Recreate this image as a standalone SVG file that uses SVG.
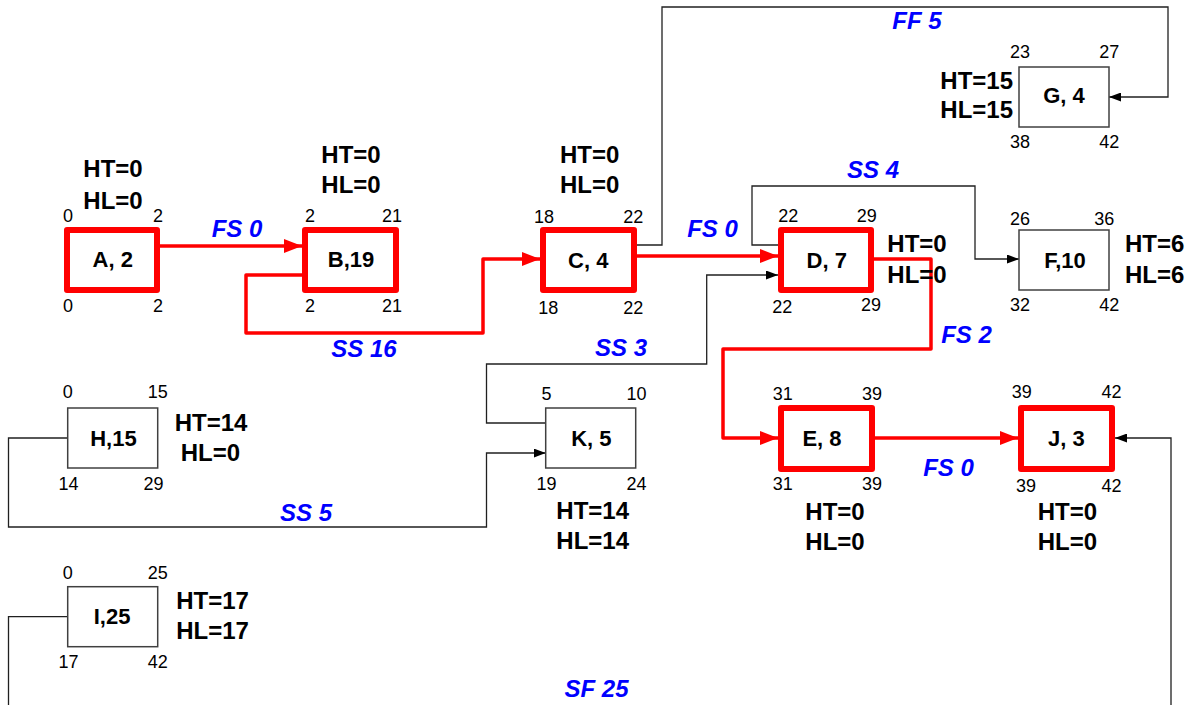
<svg xmlns="http://www.w3.org/2000/svg" width="1195" height="705" viewBox="0 0 1195 705">
<defs>
<style>
.crit{fill:#fff;stroke:#ff0000;stroke-width:6;stroke-linejoin:round}
.norm{fill:#fff;stroke:#404040;stroke-width:1.5}
.rc{fill:none;stroke:#ff0000;stroke-width:3.5;stroke-linejoin:round}
.bc{fill:none;stroke:#202020;stroke-width:1.3}
.lbl{font-family:"Liberation Sans",Arial,sans-serif;font-size:22px;font-weight:bold;fill:#000;text-anchor:middle}
.num{font-family:"Liberation Sans",Arial,sans-serif;font-size:18px;fill:#000;text-anchor:middle}
.ht{font-family:"Liberation Sans",Arial,sans-serif;font-size:24px;font-weight:bold;fill:#000;text-anchor:middle}
.cl{font-family:"Liberation Sans",Arial,sans-serif;font-size:24px;font-weight:bold;font-style:italic;fill:#0000ff;text-anchor:middle}
</style>
<marker id="ar" markerWidth="18" markerHeight="14" refX="18" refY="7" orient="auto" markerUnits="userSpaceOnUse">
<path d="M0,0 L18,7 L0,14 Z" fill="#ff0000"/>
</marker>
<marker id="ab" markerWidth="12" markerHeight="9" refX="12" refY="4.5" orient="auto" markerUnits="userSpaceOnUse">
<path d="M0,0 L12,4.5 L0,9 Z" fill="#000"/>
</marker>
</defs>
<rect width="1195" height="705" fill="#fff"/>

<g id="connectors">
<path class="rc" d="M160,246 H302" marker-end="url(#ar)"/>
<path class="rc" d="M302,275 H246 V333 H483 V259 H540" marker-end="url(#ar)"/>
<path class="rc" d="M637,256 H778" marker-end="url(#ar)"/>
<path class="rc" d="M874,259 H931 V349 H723 V438 H778" marker-end="url(#ar)"/>
<path class="rc" d="M875,438 H1018" marker-end="url(#ar)"/>
<path class="bc" d="M637,245 H662 V7 H1168 V97 H1109" marker-end="url(#ab)"/>
<path class="bc" d="M781,245 H752 V186 H975 V259 H1019" marker-end="url(#ab)"/>
<path class="bc" d="M545.7,423 H486.5 V364 H706.7 V275 H778" marker-end="url(#ab)"/>
<path class="bc" d="M67.7,438 H8.5 V527 H486.5 V453 H545.7" marker-end="url(#ab)"/>
<path class="bc" d="M67.7,616.7 H8.5 V720 H1171 V438 H1115" marker-end="url(#ab)"/>
<text class="cl" x="237" y="237">FS 0</text>
<text class="cl" x="364" y="357">SS 16</text>
<text class="cl" x="712.5" y="237">FS 0</text>
<text class="cl" x="621" y="356">SS 3</text>
<text class="cl" x="917" y="29">FF 5</text>
<text class="cl" x="873" y="178">SS 4</text>
<text class="cl" x="966.5" y="343">FS 2</text>
<text class="cl" x="948.5" y="476">FS 0</text>
<text class="cl" x="306" y="521">SS 5</text>
<text class="cl" x="596.5" y="697">SF 25</text>
</g>

<g id="node-A">
<rect class="crit" x="67" y="230" width="90" height="60"/>
<text class="lbl" x="112.7" y="267">A, 2</text>
<text class="num" x="68" y="222">0</text><text class="num" x="158" y="222">2</text>
<text class="num" x="68" y="312">0</text><text class="num" x="158" y="312">2</text>
<text class="ht" x="113" y="177">HT=0</text><text class="ht" x="113" y="209">HL=0</text>
</g>

<g id="node-B">
<rect class="crit" x="305" y="230" width="91" height="60"/>
<text class="lbl" x="351" y="267">B,19</text>
<text class="num" x="310" y="222">2</text><text class="num" x="392" y="222">21</text>
<text class="num" x="310" y="312">2</text><text class="num" x="392" y="312">21</text>
<text class="ht" x="351" y="163">HT=0</text><text class="ht" x="351" y="193">HL=0</text>
</g>

<g id="node-C">
<rect class="crit" x="543" y="230" width="91" height="60"/>
<text class="lbl" x="588.3" y="268">C, 4</text>
<text class="num" x="544" y="222.7">18</text><text class="num" x="633.3" y="222.7">22</text>
<text class="num" x="548.3" y="314">18</text><text class="num" x="633.3" y="314">22</text>
<text class="ht" x="589.7" y="163">HT=0</text><text class="ht" x="589.7" y="193">HL=0</text>
</g>

<g id="node-D">
<rect class="crit" x="781" y="230" width="90" height="60"/>
<text class="lbl" x="826.7" y="267.7">D, 7</text>
<text class="num" x="788.3" y="221.7">22</text><text class="num" x="866.7" y="221.7">29</text>
<text class="num" x="782.3" y="313.3">22</text><text class="num" x="871" y="311">29</text>
<text class="ht" x="917" y="252.3">HT=0</text><text class="ht" x="917" y="282.7">HL=0</text>
</g>

<g id="node-E">
<rect class="crit" x="781" y="408" width="91" height="61"/>
<text class="lbl" x="822" y="446">E, 8</text>
<text class="num" x="782.8" y="400">31</text><text class="num" x="872" y="400">39</text>
<text class="num" x="782.8" y="490">31</text><text class="num" x="872" y="490">39</text>
<text class="ht" x="835" y="520">HT=0</text><text class="ht" x="835" y="550">HL=0</text>
</g>

<g id="node-J">
<rect class="crit" x="1021" y="408" width="91" height="61"/>
<text class="lbl" x="1066.4" y="446">J, 3</text>
<text class="num" x="1021.8" y="397.7">39</text><text class="num" x="1111.6" y="397.7">42</text>
<text class="num" x="1025.9" y="491.7">39</text><text class="num" x="1111.6" y="491.7">42</text>
<text class="ht" x="1067.4" y="520">HT=0</text><text class="ht" x="1067.4" y="550">HL=0</text>
</g>

<g id="node-G">
<rect class="norm" x="1019" y="67" width="90" height="60"/>
<text class="lbl" x="1064" y="103.3">G, 4</text>
<text class="num" x="1020" y="58.3">23</text><text class="num" x="1109.3" y="58.3">27</text>
<text class="num" x="1020" y="147.7">38</text><text class="num" x="1109.3" y="147.7">42</text>
<text class="ht" x="976.7" y="89.3">HT=15</text><text class="ht" x="976.7" y="118.3">HL=15</text>
</g>

<g id="node-F">
<rect class="norm" x="1019" y="230" width="90" height="60"/>
<text class="lbl" x="1065" y="267.7">F,10</text>
<text class="num" x="1020" y="225">26</text><text class="num" x="1104.3" y="225">36</text>
<text class="num" x="1020" y="311">32</text><text class="num" x="1109.3" y="311">42</text>
<text class="ht" x="1154.7" y="252.3">HT=6</text><text class="ht" x="1154.7" y="282.7">HL=6</text>
</g>

<g id="node-H">
<rect class="norm" x="67.7" y="408" width="90" height="60"/>
<text class="lbl" x="113.4" y="445.7">H,15</text>
<text class="num" x="67.7" y="398.3">0</text><text class="num" x="157.8" y="398.3">15</text>
<text class="num" x="68.5" y="490">14</text><text class="num" x="153.6" y="490">29</text>
<text class="ht" x="211" y="430.7">HT=14</text><text class="ht" x="210.4" y="461">HL=0</text>
</g>

<g id="node-K">
<rect class="norm" x="545.7" y="408" width="90" height="60"/>
<text class="lbl" x="591.4" y="445.7">K, 5</text>
<text class="num" x="546.5" y="400">5</text><text class="num" x="636.6" y="400">10</text>
<text class="num" x="546.5" y="490">19</text><text class="num" x="636.6" y="490">24</text>
<text class="ht" x="592.7" y="519.3">HT=14</text><text class="ht" x="592.7" y="549.3">HL=14</text>
</g>

<g id="node-I">
<rect class="norm" x="67.7" y="586.7" width="90" height="60"/>
<text class="lbl" x="112.1" y="624">I,25</text>
<text class="num" x="67.7" y="579.3">0</text><text class="num" x="157.8" y="579.3">25</text>
<text class="num" x="68.5" y="668.3">17</text><text class="num" x="157.8" y="668.3">42</text>
<text class="ht" x="212.5" y="609.3">HT=17</text><text class="ht" x="212.5" y="639.3">HL=17</text>
</g>
</svg>
